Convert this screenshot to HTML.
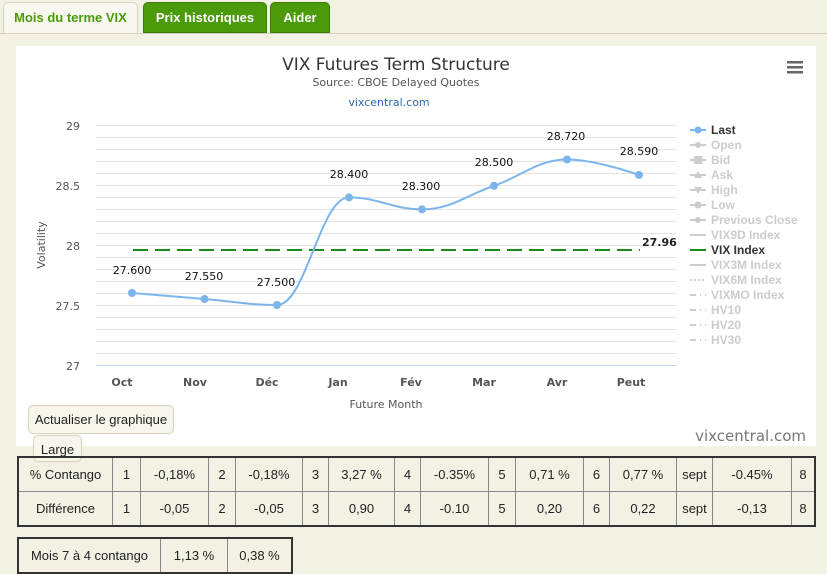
<!DOCTYPE html>
<html><head><meta charset="utf-8"><style>
body{margin:0;width:827px;height:569px;background:#f3f0e4;font-family:"Liberation Sans",sans-serif;overflow:hidden;position:relative}
.tab{position:absolute;top:2px;height:31px;border-radius:5px 5px 0 0;font-weight:bold;font-size:13px;line-height:30px;text-align:center;box-sizing:border-box}
.g{background:#4a9a0a;color:#fff;border:1px solid #3a7a08}
.bar{position:absolute;left:0;top:33px;width:827px;height:1px;background:#d6d2bf}
.btn{position:absolute;background:#f7f5ec;border:1px solid #d8d3bb;border-radius:5px;font-size:13px;color:#222;text-align:center;box-sizing:border-box}
table{position:absolute;border-collapse:collapse;border:2px solid #333;font-size:13px;color:#222}
td{border:1px solid #888;text-align:center;padding:0;height:33px}
</style></head><body>
<div class="tab" style="left:3px;width:135px;background:#f8f7f0;border:1px solid #d6d2bf;border-bottom:none;color:#4a9a0a;height:32px">Mois du terme VIX</div>
<div class="tab g" style="left:143px;width:124px">Prix historiques</div>
<div class="tab g" style="left:270px;width:60px">Aider</div>
<div class="bar"></div>
<svg style="position:absolute;left:0;top:0" width="827" height="569" font-family="DejaVu Sans,sans-serif">
<rect x="16" y="46" width="800" height="400" fill="#fff"/>
<text x="396" y="70" text-anchor="middle" font-size="17" fill="#333">VIX Futures Term Structure</text>
<text x="396" y="86" text-anchor="middle" font-size="11" fill="#555">Source: CBOE Delayed Quotes</text>
<text x="389" y="106" text-anchor="middle" font-size="11" fill="#2a6ab0">vixcentral.com</text>
<g fill="#666"><rect x="787" y="61" width="16" height="2.5"/><rect x="787" y="66" width="16" height="2.5"/><rect x="787" y="71" width="16" height="2.5"/></g>
<g stroke="#e4e4e4" stroke-width="1">
<line x1="96" x2="676" y1="125.5" y2="125.5"/><line x1="96" x2="676" y1="137.5" y2="137.5"/><line x1="96" x2="676" y1="149.5" y2="149.5"/><line x1="96" x2="676" y1="161.5" y2="161.5"/><line x1="96" x2="676" y1="173.5" y2="173.5"/><line x1="96" x2="676" y1="185.5" y2="185.5"/><line x1="96" x2="676" y1="197.5" y2="197.5"/><line x1="96" x2="676" y1="209.5" y2="209.5"/><line x1="96" x2="676" y1="221.5" y2="221.5"/><line x1="96" x2="676" y1="233.5" y2="233.5"/><line x1="96" x2="676" y1="245.5" y2="245.5"/><line x1="96" x2="676" y1="257.5" y2="257.5"/><line x1="96" x2="676" y1="269.5" y2="269.5"/><line x1="96" x2="676" y1="281.5" y2="281.5"/><line x1="96" x2="676" y1="293.5" y2="293.5"/><line x1="96" x2="676" y1="305.5" y2="305.5"/><line x1="96" x2="676" y1="317.5" y2="317.5"/><line x1="96" x2="676" y1="329.5" y2="329.5"/><line x1="96" x2="676" y1="341.5" y2="341.5"/><line x1="96" x2="676" y1="353.5" y2="353.5"/>
</g>
<line x1="96" x2="676" y1="365.5" y2="365.5" stroke="#c0d0e0"/>
<g font-size="11" fill="#555" text-anchor="end"><text x="80" y="130">29</text><text x="80" y="190">28.5</text><text x="80" y="250">28</text><text x="80" y="310">27.5</text><text x="80" y="370">27</text></g>
<text transform="translate(45,245) rotate(-90)" text-anchor="middle" font-size="11" fill="#555">Volatility</text>
<g font-size="11" fill="#555" font-weight="bold" text-anchor="middle"><text x="122" y="386">Oct</text><text x="195" y="386">Nov</text><text x="267" y="386">Déc</text><text x="338" y="386">Jan</text><text x="411" y="386">Fév</text><text x="484" y="386">Mar</text><text x="557" y="386">Avr</text><text x="631" y="386">Peut</text></g>
<text x="386" y="408" text-anchor="middle" font-size="11" fill="#555">Future Month</text>
<line x1="133" x2="640" y1="250" y2="250" stroke="#1a8a1a" stroke-width="2" stroke-dasharray="15,7"/>
<text x="642" y="246" font-size="11" font-weight="bold" fill="#222">27.96</text>
<path d="M132 293 C132 293 175.5 296.6 204.5 299 C233.5 301.4 248 305 277 305 C306 305 320 197.4 349 197.4 C378 197.4 393 209.4 422 209.4 C451 209.4 465 195.75 494 185.75 C523 175.75 538 159.5 567 159.5 C596 159.5 639 175 639 175" fill="none" stroke="#7cb5ec" stroke-width="2"/>
<g fill="#7cb5ec"><circle cx="132" cy="293" r="4"/><circle cx="204.5" cy="299" r="4"/><circle cx="277" cy="305" r="4"/><circle cx="349" cy="197.4" r="4"/><circle cx="422" cy="209.4" r="4"/><circle cx="494" cy="185.75" r="4"/><circle cx="567" cy="159.5" r="4"/><circle cx="639" cy="175" r="4"/></g>
<g font-size="11" fill="#111" text-anchor="middle"><text x="132" y="274">27.600</text><text x="204" y="280">27.550</text><text x="276" y="286">27.500</text><text x="349" y="178">28.400</text><text x="421" y="190">28.300</text><text x="494" y="166">28.500</text><text x="566" y="140">28.720</text><text x="639" y="155">28.590</text></g>
<g font-size="12" font-weight="bold" fill="#ccc" font-family="Liberation Sans,sans-serif">
<line x1="690" x2="706" y1="130" y2="130" stroke="#7cb5ec" stroke-width="2"/><circle cx="698" cy="130" r="3.5" fill="#7cb5ec"/><text x="711" y="134" fill="#333">Last</text>
<line x1="690" x2="706" y1="145" y2="145" stroke="#ccc" stroke-width="2"/><circle cx="698" cy="145" r="3" fill="#ccc"/><text x="711" y="149">Open</text>
<line x1="690" x2="706" y1="160" y2="160" stroke="#ccc" stroke-width="2"/><rect x="694" y="156" width="8" height="8" fill="#ccc"/><text x="711" y="164">Bid</text>
<line x1="690" x2="706" y1="175" y2="175" stroke="#ccc" stroke-width="2"/><path d="M698 171 L702 178 L694 178Z" fill="#ccc"/><text x="711" y="179">Ask</text>
<line x1="690" x2="706" y1="190" y2="190" stroke="#ccc" stroke-width="2"/><path d="M694 187 L702 187 L698 194Z" fill="#ccc"/><text x="711" y="194">High</text>
<line x1="690" x2="706" y1="205" y2="205" stroke="#ccc" stroke-width="2"/><circle cx="698" cy="205" r="3.5" fill="#ccc"/><text x="711" y="209">Low</text>
<line x1="690" x2="706" y1="220" y2="220" stroke="#ccc" stroke-width="2"/><circle cx="698" cy="220" r="3" fill="#ccc"/><text x="711" y="224">Previous Close</text>
<line x1="690" x2="706" y1="235" y2="235" stroke="#ccc" stroke-width="2"/><text x="711" y="239">VIX9D Index</text>
<line x1="690" x2="706" y1="250" y2="250" stroke="#1a8a1a" stroke-width="2"/><text x="711" y="254" fill="#333">VIX Index</text>
<line x1="690" x2="706" y1="265" y2="265" stroke="#ccc" stroke-width="2"/><text x="711" y="269">VIX3M Index</text>
<line x1="690" x2="706" y1="280" y2="280" stroke="#ccc" stroke-width="2" stroke-dasharray="2,2"/><text x="711" y="284">VIX6M Index</text>
<line x1="690" x2="706" y1="295" y2="295" stroke="#ccc" stroke-width="2" stroke-dasharray="6,4,1,4"/><text x="711" y="299">VIXMO Index</text>
<line x1="690" x2="706" y1="310" y2="310" stroke="#ccc" stroke-width="2" stroke-dasharray="6,4,1,4"/><text x="711" y="314">HV10</text>
<line x1="690" x2="706" y1="325" y2="325" stroke="#ccc" stroke-width="2" stroke-dasharray="6,4,1,4"/><text x="711" y="329">HV20</text>
<line x1="690" x2="706" y1="340" y2="340" stroke="#ccc" stroke-width="2" stroke-dasharray="6,4,1,4"/><text x="711" y="344">HV30</text>
</g>
<text x="806" y="441" text-anchor="end" font-size="15" fill="#777">vixcentral.com</text>
</svg>
<div class="btn" style="left:28px;top:405px;width:146px;height:29px;line-height:27px">Actualiser le graphique</div>
<div class="btn" style="left:33px;top:435px;width:49px;height:27px;line-height:27px">Large</div>
<table style="left:17px;top:456px;width:799px">
<tr><td style="width:93px">% Contango</td><td style="width:27px">1</td><td style="width:67px">-0,18%</td><td style="width:26px">2</td><td style="width:66px">-0,18%</td><td style="width:25px">3</td><td style="width:65px">3,27 %</td><td style="width:25px">4</td><td style="width:67px">-0.35%</td><td style="width:26px">5</td><td style="width:67px">0,71 %</td><td style="width:25px">6</td><td style="width:66px">0,77 %</td><td style="width:35px">sept</td><td style="width:78px">-0.45%</td><td>8</td></tr>
<tr><td>Différence</td><td>1</td><td>-0,05</td><td>2</td><td>-0,05</td><td>3</td><td>0,90</td><td>4</td><td>-0.10</td><td>5</td><td>0,20</td><td>6</td><td>0,22</td><td>sept</td><td>-0,13</td><td>8</td></tr>
</table>
<table style="left:17px;top:537px;width:276px">
<tr><td style="width:141px">Mois 7 à 4 contango</td><td style="width:66px">1,13 %</td><td>0,38 %</td></tr>
</table>
</body></html>
